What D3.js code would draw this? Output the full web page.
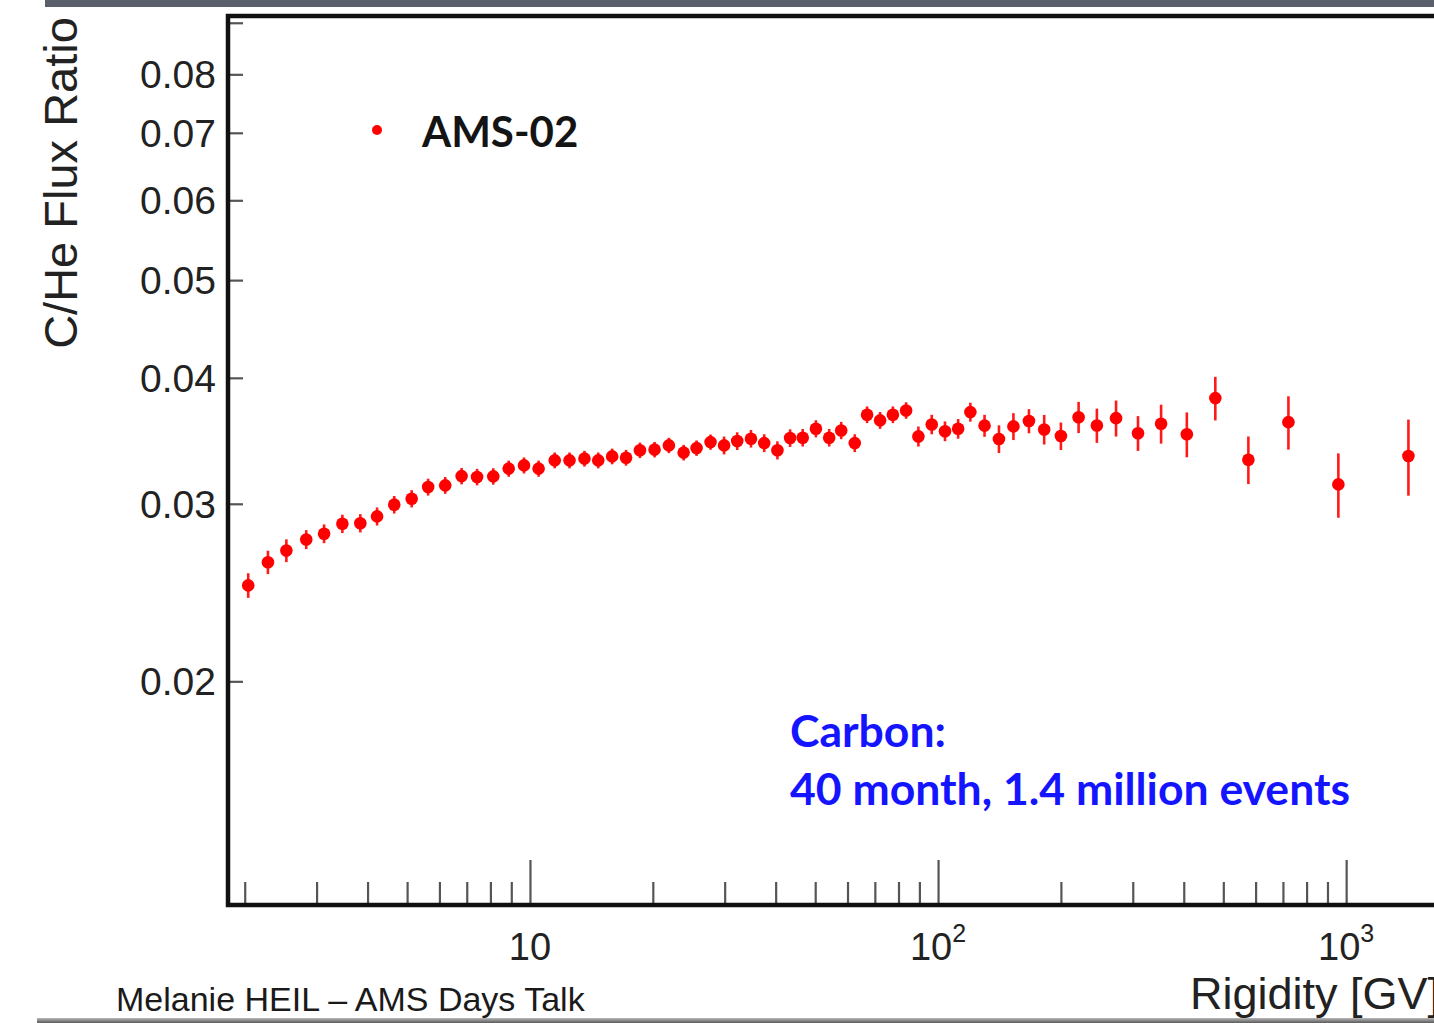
<!DOCTYPE html>
<html>
<head>
<meta charset="utf-8">
<script src="https://cdn.jsdelivr.net/npm/d3@7"></script>
<style>
  html, body { margin: 0; padding: 0; background: #ffffff; overflow: hidden; }
  svg { display: block; }
</style>
</head>
<body>
<svg id="chart" width="1434" height="1023"></svg>
<script>
// C/He flux ratio measured by AMS-02 versus rigidity (GV)
const rigidity = [2.04, 2.28, 2.53, 2.83, 3.13, 3.47, 3.84, 4.22, 4.65, 5.13,
  5.63, 6.20, 6.80, 7.42, 8.13, 8.87, 9.67, 10.5, 11.5, 12.5,
  13.6, 14.7, 15.9, 17.2, 18.6, 20.2, 21.9, 23.8, 25.6, 27.7,
  29.9, 32.2, 34.8, 37.5, 40.4, 43.4, 46.6, 50.2, 54.1, 57.9,
  62.5, 67.0, 72.1, 77.5, 83.5, 89.5, 96.5, 104, 112, 120,
  130, 141, 153, 167, 182, 200, 221, 245, 273, 309,
  352, 407, 478, 576, 722, 957, 1421];

const ratio = [0.02490, 0.02625, 0.02696, 0.02765, 0.02802, 0.02866, 0.02870, 0.02915, 0.02994, 0.03035,
  0.03117, 0.03129, 0.03196, 0.03189, 0.03194, 0.03251, 0.03275, 0.03251, 0.03313, 0.03313,
  0.03326, 0.03313, 0.03343, 0.03333, 0.03390, 0.03395, 0.03428, 0.03372, 0.03407, 0.03454,
  0.03428, 0.03462, 0.03481, 0.03446, 0.03390, 0.03486, 0.03489, 0.03561, 0.03489, 0.03547,
  0.03446, 0.03677, 0.03630, 0.03677, 0.03713, 0.03499, 0.03596, 0.03541, 0.03561, 0.03699,
  0.03586, 0.03479, 0.03580, 0.03624, 0.03555, 0.03502, 0.03656, 0.03588, 0.03648, 0.03525,
  0.03602, 0.03516, 0.03819, 0.03318, 0.03615, 0.03136, 0.03346];

const ratioErr = [0.0007, 0.0007, 0.0007, 0.0006, 0.0006, 0.0006, 0.0006, 0.0006, 0.0006, 0.0006,
  0.0006, 0.0006, 0.0006, 0.0006, 0.0006, 0.0006, 0.0006, 0.0006, 0.0006, 0.0006,
  0.0006, 0.0006, 0.0006, 0.0006, 0.0006, 0.0006, 0.0006, 0.0006, 0.0006, 0.0006,
  0.0007, 0.0007, 0.0007, 0.0007, 0.0007, 0.0007, 0.0007, 0.0007, 0.0007, 0.0007,
  0.0007, 0.0007, 0.0007, 0.0007, 0.0007, 0.0008, 0.0008, 0.0008, 0.0008, 0.0008,
  0.0009, 0.0011, 0.0011, 0.0010, 0.0012, 0.0011, 0.0013, 0.0014, 0.0015, 0.0014,
  0.0016, 0.0018, 0.0019, 0.0018, 0.0022, 0.0023, 0.0029];

// axis ticks
const yTicks = [0.02, 0.03, 0.04, 0.05, 0.06, 0.07, 0.08, 0.09];
const yTickLabels = ["0.02", "0.03", "0.04", "0.05", "0.06", "0.07", "0.08", ""];
const xMajorTicks = [10, 100, 1000];
const xMajorBase = ["10", "10", "10"];
const xMajorExp = ["", "2", "3"];
const xMinorTicks = [2, 3, 4, 5, 6, 7, 8, 9, 20, 30, 40, 50, 60, 70, 80, 90,
  200, 300, 400, 500, 600, 700, 800, 900];

const seriesName = "AMS-02";
const noteLines = ["Carbon:", "40 month, 1.4 million events"];
const xTitle = "Rigidity [GV]";
const yTitle = "C/He Flux Ratio";
const footer = "Melanie HEIL \u2013 AMS Days Talk";

const svg = d3.select("#chart");
const W = 1434, H = 1023;

const x = d3.scaleLog().domain([1.82, 2000]).range([228, 1469]);
const y = d3.scaleLog().domain([0.012, 0.0914]).range([905, 16]);

// slide strips
svg.append("rect").attr("x", 45).attr("y", 0).attr("width", W - 45).attr("height", 7)
  .attr("fill", "#5b5f6c");
const grad = svg.append("defs").append("linearGradient")
  .attr("id", "bottomStrip").attr("x1", 0).attr("y1", 0).attr("x2", 0).attr("y2", 1);
grad.append("stop").attr("offset", "0%").attr("stop-color", "#b8b8b8");
grad.append("stop").attr("offset", "100%").attr("stop-color", "#5a5a5a");
svg.append("rect").attr("x", 37).attr("y", 1018).attr("width", W - 37).attr("height", 5)
  .attr("fill", "url(#bottomStrip)");

// y ticks (inward)
const yAxis = d3.axisRight(y).tickValues(yTicks).tickSize(15).tickFormat("");
const gy = svg.append("g").attr("transform", "translate(228,0)").call(yAxis);
gy.select(".domain").remove();
gy.selectAll(".tick line").attr("stroke", "#555").attr("stroke-width", 2.2);

svg.append("g").selectAll("text").data(yTicks).join("text")
  .attr("x", 216).attr("y", d => y(d)).attr("dy", "0.36em")
  .attr("text-anchor", "end")
  .attr("font-family", "Liberation Sans, Arial, sans-serif")
  .attr("font-size", 39).attr("fill", "#222")
  .text((d, i) => yTickLabels[i]);

// x ticks (inward), minor then major
const gxMinor = svg.append("g").attr("transform", "translate(0,905)")
  .call(d3.axisTop(x).tickValues(xMinorTicks).tickSize(23).tickFormat(""));
gxMinor.select(".domain").remove();
gxMinor.selectAll(".tick line").attr("stroke", "#555").attr("stroke-width", 2.2);
const gxMajor = svg.append("g").attr("transform", "translate(0,905)")
  .call(d3.axisTop(x).tickValues(xMajorTicks).tickSize(45).tickFormat(""));
gxMajor.select(".domain").remove();
gxMajor.selectAll(".tick line").attr("stroke", "#555").attr("stroke-width", 2.2);

const xLab = svg.append("g").selectAll("text").data(xMajorTicks).join("text")
  .attr("x", d => x(d)).attr("y", 960)
  .attr("text-anchor", "middle")
  .attr("font-family", "Liberation Sans, Arial, sans-serif")
  .attr("font-size", 38).attr("fill", "#222");
xLab.append("tspan").text((d, i) => xMajorBase[i]);
xLab.append("tspan").attr("font-size", 25).attr("dy", -18)
  .text((d, i) => xMajorExp[i]);

// frame
const [x0, x1] = x.range();
const [yb, yt] = y.range();
svg.append("path")
  .attr("d", `M${x1},${yt}H${x0}V${yb}H${x1}`)
  .attr("fill", "none").attr("stroke", "#111").attr("stroke-width", 4.5);

// axis titles
svg.append("text")
  .attr("transform", "translate(77,183) rotate(-90)")
  .attr("text-anchor", "middle")
  .attr("font-family", "Liberation Sans, Arial, sans-serif")
  .attr("font-size", 47).attr("fill", "#222")
  .text(yTitle);
svg.append("text")
  .attr("x", 1190).attr("y", 1009)
  .attr("font-family", "Liberation Sans, Arial, sans-serif")
  .attr("font-size", 45).attr("fill", "#222")
  .text(xTitle);

// footer
svg.append("text")
  .attr("x", 116).attr("y", 1011)
  .attr("font-family", "Liberation Sans, Arial, sans-serif")
  .attr("font-size", 34).attr("fill", "#1a1a1a")
  .text(footer);

// data: error bars + markers
const pts = rigidity.map((r, i) => ({ r, v: ratio[i], e: ratioErr[i] }));
const gData = svg.append("g");
gData.selectAll("line").data(pts).join("line")
  .attr("x1", d => x(d.r)).attr("x2", d => x(d.r))
  .attr("y1", d => y(d.v - d.e)).attr("y2", d => y(d.v + d.e))
  .attr("stroke", "#ff1a1a").attr("stroke-width", 2.6);
gData.selectAll("circle").data(pts).join("circle")
  .attr("cx", d => x(d.r)).attr("cy", d => y(d.v)).attr("r", 6.3)
  .attr("fill", "#ff0000");

// legend
svg.append("circle").attr("cx", 377).attr("cy", 130).attr("r", 5).attr("fill", "#ff0000");
svg.append("text")
  .attr("x", 422).attr("y", 147)
  .attr("font-family", "Lato, 'Open Sans', sans-serif").attr("font-weight", 700)
  .attr("font-size", 42).attr("fill", "#141414")
  .text(seriesName);

// annotation
svg.append("g").selectAll("text").data(noteLines).join("text")
  .attr("x", 790).attr("y", (d, i) => 747 + i * 58)
  .attr("font-family", "Lato, 'Open Sans', sans-serif").attr("font-weight", 700)
  .attr("font-size", 44.5).attr("fill", "#1414ff")
  .text(d => d);
</script>
</body>
</html>
